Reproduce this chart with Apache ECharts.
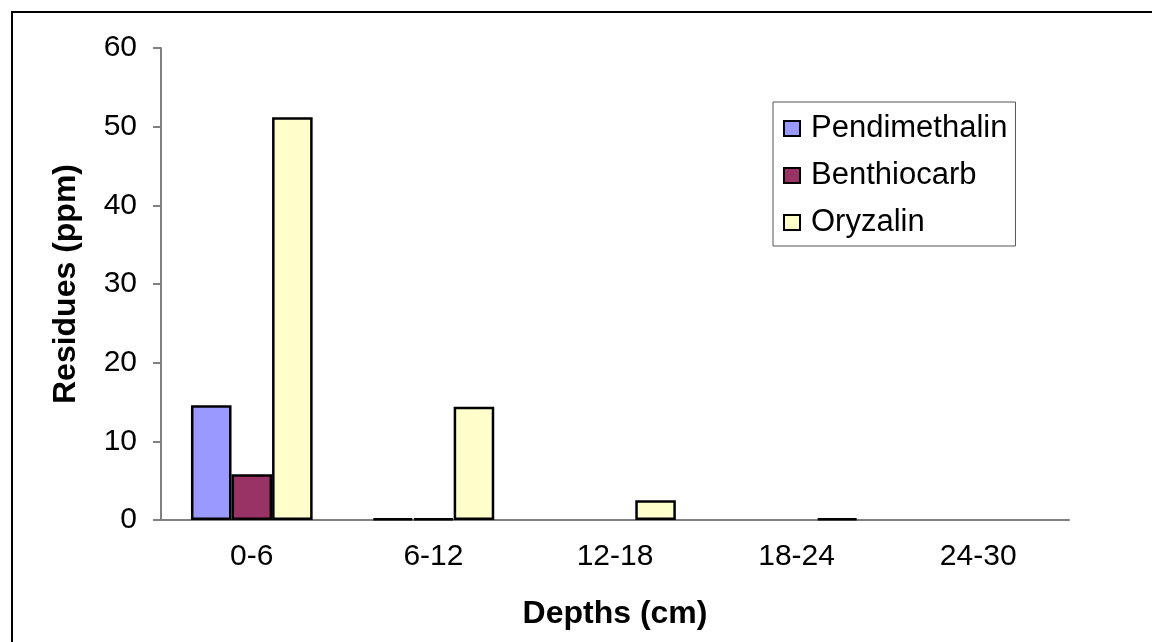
<!DOCTYPE html>
<html>
<head>
<meta charset="utf-8">
<script src="https://cdn.jsdelivr.net/npm/echarts@6/dist/echarts.min.js"></script>
<style>
  html, body { margin: 0; padding: 0; background: #fff; }
  #chart { width: 1152px; height: 642px; }
</style>
</head>
<body>
<div id="chart"></div>
<script>
// 深度分类
const depths = ['0-6', '6-12', '12-18', '18-24', '24-30']
// 各除草剂残留量 (ppm)，null 表示没有柱子
const pendimethalin = [14.6, 0.2, null, null, null]
const benthiocarb = [5.8, 0.2, null, null, null]
const oryzalin = [51.2, 14.4, 2.5, 0.2, null]

const font = '"Liberation Sans", Arial, sans-serif'

const chart = echarts.init(document.getElementById('chart'), null, { renderer: 'canvas' })

const barStyle = (color) => ({
  color: color,
  borderColor: '#000',
  borderWidth: 2.5
})

const option = {
  animation: false,
  textStyle: { fontFamily: font },
  graphic: [
    {
      type: 'rect',
      shape: { x: 12, y: 12, width: 1200, height: 700 },
      style: { fill: 'none', stroke: '#000', lineWidth: 2 },
      silent: true
    }
  ],
  grid: {
    left: 161,
    right: 83,
    top: 48,
    bottom: 122
  },
  legend: {
    orient: 'vertical',
    left: 773,
    top: 102,
    padding: [11, 8, 8, 10],
    itemGap: 16,
    itemWidth: 16,
    itemHeight: 15,
    borderColor: '#555',
    borderWidth: 1,
    icon: 'rect',
    itemStyle: { borderColor: '#000', borderWidth: 2 },
    textStyle: {
      fontFamily: font,
      fontSize: 31,
      lineHeight: 30,
      color: '#000',
      padding: [0, 0, 0, 6]
    },
    data: ['Pendimethalin', 'Benthiocarb', 'Oryzalin']
  },
  xAxis: {
    type: 'category',
    data: depths,
    name: 'Depths (cm)',
    nameLocation: 'middle',
    nameGap: 78,
    nameTextStyle: {
      fontFamily: font,
      fontSize: 32,
      fontWeight: 'bold',
      color: '#000'
    },
    axisLine: { lineStyle: { color: '#808080', width: 2 } },
    axisTick: { length: 8, lineStyle: { color: '#808080', width: 2 } },
    axisLabel: { fontSize: 30, color: '#000', margin: 22, fontFamily: font }
  },
  yAxis: {
    type: 'value',
    min: 0,
    max: 60,
    interval: 10,
    name: 'Residues (ppm)',
    nameLocation: 'middle',
    nameGap: 79,
    nameTextStyle: {
      fontFamily: font,
      fontSize: 32,
      fontWeight: 'bold',
      color: '#000'
    },
    axisLine: { show: true, lineStyle: { color: '#808080', width: 2 } },
    axisTick: { show: true, length: 8, lineStyle: { color: '#808080', width: 2 } },
    axisLabel: { fontSize: 30, color: '#000', margin: 24, fontFamily: font },
    splitLine: { show: false }
  },
  series: [
    {
      name: 'Pendimethalin',
      type: 'bar',
      data: pendimethalin,
      barGap: '0%',
      barCategoryGap: '33%',
      itemStyle: barStyle('#9999FF')
    },
    {
      name: 'Benthiocarb',
      type: 'bar',
      data: benthiocarb,
      itemStyle: barStyle('#993366')
    },
    {
      name: 'Oryzalin',
      type: 'bar',
      data: oryzalin,
      itemStyle: barStyle('#FFFFCC')
    }
  ]
}

chart.setOption(option)
</script>
</body>
</html>
